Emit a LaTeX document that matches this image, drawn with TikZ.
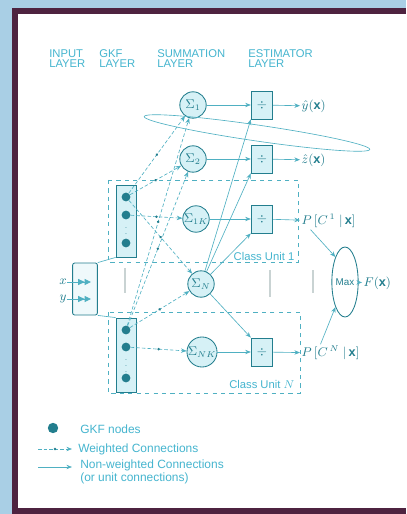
\documentclass[tikz,border=0pt]{standalone}
\usepackage{fontspec}
\setmainfont{Liberation Sans}
\usetikzlibrary{arrows.meta,shapes.geometric,decorations.markings}
\definecolor{figbg}{HTML}{A9CFE5}
\definecolor{figframe}{HTML}{4E2340}
\definecolor{figline}{HTML}{4FB0C2}
\definecolor{figdark}{HTML}{237E8E}
\definecolor{figfill}{HTML}{D6F1F6}
\definecolor{figtext}{HTML}{45B5CF}
\definecolor{figgrey}{HTML}{C9D3D3}
\tikzset{
  hdr/.style={font=\fontsize{8}{7.6}\selectfont,text=figtext,align=left,inner sep=0pt,anchor=north west},
  sumnode/.style={circle,draw=figdark,fill=figfill,line width=0.6pt,minimum size=6.6mm,inner sep=0pt,
                  font=\small,text=figdark},
  estbox/.style={draw=figdark,fill=figfill,line width=0.6pt,minimum width=5.4mm,minimum height=7mm,
                 inner sep=0pt,font=\small,text=figdark},
  gkfbox/.style={draw=figdark,fill=figfill,line width=0.6pt,minimum width=5mm,inner sep=0pt},
  gkfdot/.style={circle,fill=figdark,minimum size=2.2mm,inner sep=0pt},
  classbox/.style={draw=figline,dashed,line width=0.6pt},
  ln/.style={-{Stealth[length=1.4mm,width=1.1mm]},figline,line width=0.45pt},
  wln/.style={ln,dash pattern=on 2.5pt off 1.5pt,postaction={decorate},
              decoration={markings,mark=at position 0.5 with {\fill[figdark] (0,0) circle (0.35mm);}}},
  outlbl/.style={font=\small,text=figdark,anchor=west,inner sep=1pt},
  lgd/.style={font=\fontsize{8.5}{9.2}\selectfont,text=figtext,anchor=west,inner sep=0pt,align=left},
}

\begin{document}
\begin{tikzpicture}[x=0.25mm,y=-0.25mm]

% frame
\fill[figbg] (0,0) rectangle (406,514);
\fill[figframe] (12,8) rectangle (406,514);
\fill[white] (18,14) rectangle (406,508);
\useasboundingbox (0,0) rectangle (406,514);

% layer headings
\node[hdr] (hin) at (49,49) {INPUT\\LAYER};
\node[hdr] (hgkf) at (99,49) {GKF\\LAYER};
\node[hdr] (hsum) at (157,49) {SUMMATION\\LAYER};
\node[hdr] (hest) at (248,49) {ESTIMATOR\\LAYER};

% class units
\draw[classbox] (108,180) rectangle (298,262);
\draw[classbox] (108,312) rectangle (300,393);
\node[font=\fontsize{8}{9}\selectfont,text=figtext,anchor=south east,inner sep=1pt] (cu1) at (296,262) {Class Unit 1};
\node[font=\fontsize{8}{9}\selectfont,text=figtext,anchor=south east,inner sep=1pt] (cun) at (296,390) {Class Unit $N$};

% continuation marks
\draw[figgrey,line width=0.8pt] (125,268) -- (125,293);
\draw[figgrey,line width=0.8pt] (270,270) -- (270,297);
\draw[figgrey,line width=0.8pt] (313,270) -- (313,293);

% input layer
\node[draw=figdark,fill=figfill!40,line width=0.6pt,rounded corners=1.5pt,minimum width=6.2mm,
      minimum height=13mm] (inp) at (85,289) {};
\node[text=figdark,font=\small,inner sep=0pt] (xl) at (63,282) {$x$};
\node[text=figdark,font=\small,inner sep=0pt] (yl) at (63,299) {$y$};
\coordinate (xa) at (91,282);
\coordinate (ya) at (91,299);
\draw[-{Triangle[length=1.6mm,width=1.5mm]Triangle[length=1.6mm,width=1.5mm]},figline,line width=0.6pt] (xl.east) -- (xa);
\draw[-{Triangle[length=1.6mm,width=1.5mm]Triangle[length=1.6mm,width=1.5mm]},figline,line width=0.6pt] (yl.east) -- (ya);

% GKF layer
\node[gkfbox,minimum height=18mm] (gkf1) at (126,221) {};
\node[gkfbox,minimum height=18.5mm] (gkf2) at (126,355) {};
\node[gkfdot] (g11) at (126,197) {};
\node[gkfdot] (g12) at (126,215) {};
\node[gkfdot] (g13) at (126,243) {};
\node[gkfdot] (g21) at (126,330) {};
\node[gkfdot] (g22) at (126,347) {};
\node[gkfdot] (g23) at (126,378) {};
\node[text=figdark,font=\tiny,inner sep=0pt] (v1) at (126,230) {$\vdots$};
\node[text=figdark,font=\tiny,inner sep=0pt] (v2) at (126,362) {$\vdots$};
\draw[figline,line width=0.45pt] (inp.north east) -- (gkf1.south west);
\draw[figline,line width=0.45pt] (inp.south east) -- (gkf2.north west);

% summation layer
\node[sumnode] (s1) at (193,105) {$\Sigma_1$};
\node[sumnode] (s2) at (193,159) {$\Sigma_2$};
\node[sumnode] (s1k) at (196,219) {$\Sigma_{1K}$};
\node[sumnode] (sN) at (201,284) {$\Sigma_N$};
\node[sumnode] (snk) at (202,352) {$\Sigma_{NK}$};

% estimator layer
\node[estbox] (e1) at (262,105) {$\div$};
\node[estbox] (e2) at (262,159) {$\div$};
\node[estbox] (e3) at (262,219) {$\div$};
\node[estbox] (e4) at (262,352) {$\div$};

% outputs
\node[outlbl] (oy) at (300,106) {$\hat{y}(\mathbf{x})$};
\node[outlbl] (oz) at (300,160) {$\hat{z}(\mathbf{x})$};
\node[outlbl] (p1) at (300,221) {$P\,[C^{\,1}\;|\,\mathbf{x}]$};
\node[outlbl] (pn) at (300,353) {$P\,[C^{\,N}\;|\,\mathbf{x}]$};
\node[ellipse,draw=figdark,fill=white,line width=0.6pt,minimum width=6.5mm,minimum height=17.5mm,
      inner sep=0pt,font=\scriptsize,text=figdark] (mx) at (345,282) {Max};
\node[outlbl] (fx) at (362,283) {$F(\mathbf{x})$};

% weighted connections
\foreach \g in {g11,g21} {
  \draw[wln] (\g) -- (s1);
  \draw[wln] (\g) -- (s2);
  \draw[wln] (\g) -- (sN);
}
\draw[wln] (g12) -- (s1k);
\draw[wln] (g22) -- (snk);

% unit connections
\draw[ln] (s1) -- (e1);
\draw[ln] (s2) -- (e2);
\draw[ln] (s1k) -- (e3);
\draw[ln] (snk) -- (e4);
\foreach \e in {e1,e2,e3} \draw[ln] (sN) -- (\e.south west);
\draw[ln] (sN) -- (e4.north west);
\draw[ln] (e1) -- (oy);
\draw[ln] (e2) -- (oz);
\draw[ln] (e3) -- (p1);
\draw[ln] (e4) -- (pn);
\draw[ln] ([xshift=-4.5mm]p1.south) -- (mx.north west);
\draw[ln] ([xshift=-2.5mm]pn.north) -- (mx.south west);
\draw[ln] (mx) -- (fx);

% grouping loop
\draw[figline,line width=0.45pt,rotate around={-8.3:(257,133)}] (257,133) ellipse [x radius=114,y radius=8];

% legend
\node[gkfdot,minimum size=2.6mm] (ld) at (53,428) {};
\node[lgd] (ldt) at (80,429) {GKF nodes};
\coordinate (lw1) at (38,449);
\coordinate (lw2) at (72,449);
\draw[wln] (lw1) -- (lw2);
\node[lgd] (lwt) at (78,449) {Weighted Connections};
\coordinate (lu1) at (38,467);
\coordinate (lu2) at (72,467);
\draw[ln] (lu1) -- (lu2);
\node[lgd] (lut) at (80,472) {Non-weighted Connections\\(or unit connections)};

\end{tikzpicture}
\end{document}
